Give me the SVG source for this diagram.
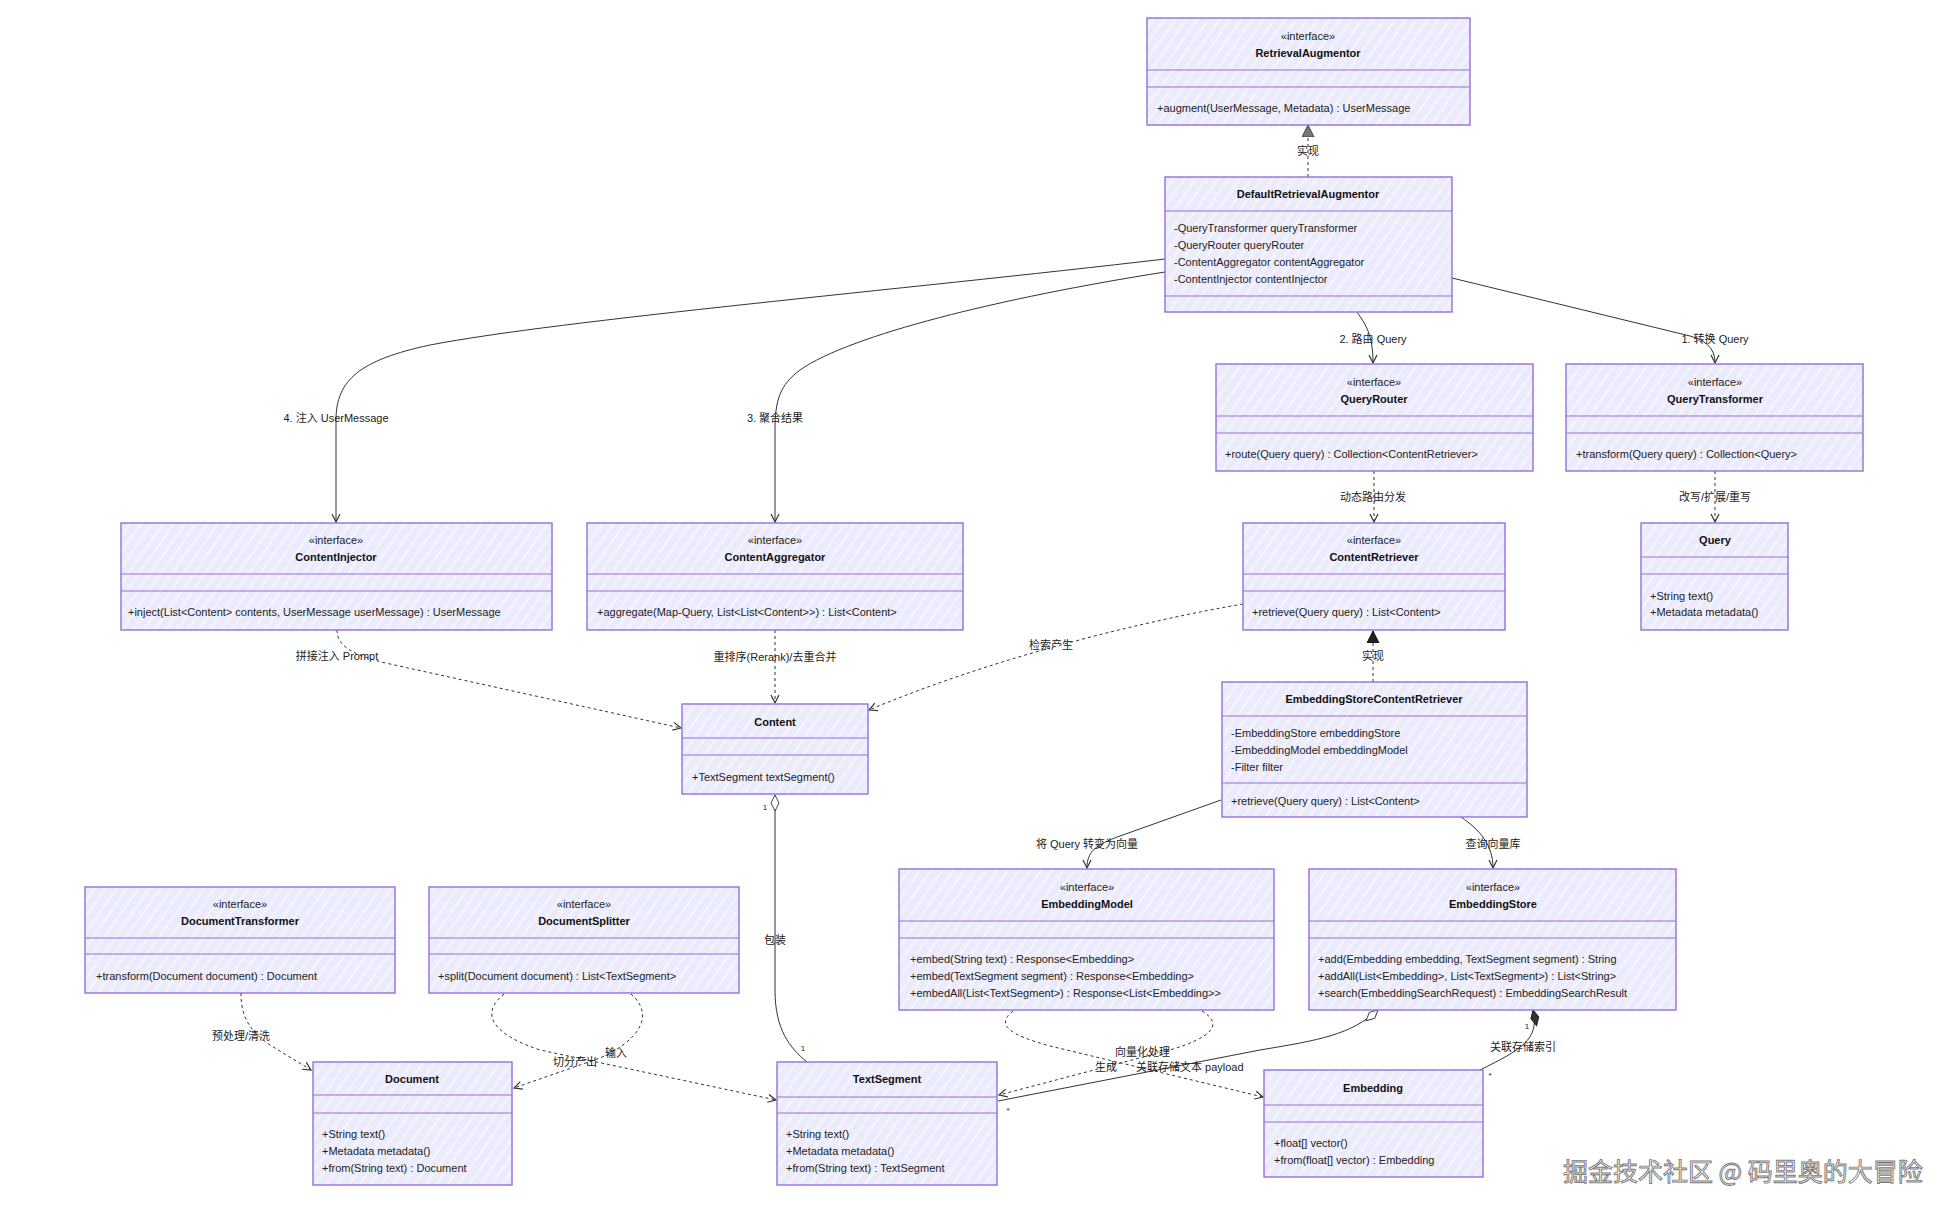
<svg xmlns="http://www.w3.org/2000/svg" width="1954" height="1214" viewBox="0 0 1954 1214">
<defs>
<pattern id="hatch" patternUnits="userSpaceOnUse" width="9" height="9" patternTransform="rotate(-55)">
<rect width="9" height="9" fill="#ececfd"/>
<line x1="0" y1="2" x2="9" y2="2" stroke="#f7f7ff" stroke-width="1.6"/>
<line x1="0" y1="6" x2="9" y2="6" stroke="#e6e6fa" stroke-width="0.8"/>
</pattern>
<marker id="arr" markerUnits="userSpaceOnUse" markerWidth="12" markerHeight="12" refX="9" refY="5" orient="auto">
<path d="M1,1 L9,5 L1,9" fill="none" stroke="#333" stroke-width="1.2"/>
</marker>
<marker id="tri" markerUnits="userSpaceOnUse" markerWidth="14" markerHeight="14" refX="12" refY="6" orient="auto">
<path d="M0,0 L12,6 L0,12 z" fill="#222" stroke="#111" stroke-width="1"/>
</marker>
<marker id="tri2" markerUnits="userSpaceOnUse" markerWidth="14" markerHeight="14" refX="12" refY="6" orient="auto">
<path d="M0,0 L12,6 L0,12 z" fill="#777" stroke="#444" stroke-width="1"/>
</marker>
<marker id="dia" markerUnits="userSpaceOnUse" markerWidth="18" markerHeight="12" refX="0" refY="5" orient="auto">
<path d="M0,5 L8,1 L16,5 L8,9 z" fill="#fff" stroke="#444" stroke-width="1"/>
</marker>
<marker id="diaf" markerUnits="userSpaceOnUse" markerWidth="18" markerHeight="12" refX="0" refY="5" orient="auto">
<path d="M0,5 L8,1 L16,5 L8,9 z" fill="#333" stroke="#222" stroke-width="1"/>
</marker>
<style>
.box{fill:url(#hatch);stroke:#9370DB;stroke-width:1.4}
.dv{stroke:#9370DB;stroke-width:1.1}
text{font-family:"Liberation Sans",Arial,"Noto Sans CJK SC",sans-serif;font-size:11px;fill:#222;dominant-baseline:central}
.n{font-weight:bold;text-anchor:middle;fill:#111}
.c{text-anchor:middle}
.e{fill:none;stroke:#333;stroke-width:1}
.d{stroke-dasharray:3 3}
.m{font-size:8px}
.wm{font-size:25px;fill:#f6f6f6;stroke:#7a7a7a;stroke-width:0.9;font-family:"Noto Sans CJK SC","Liberation Sans",sans-serif}
</style>
</defs>

<g id="connectors">
<path class="e d" d="M1308,177 L1308,125" marker-end="url(#tri2)"/>
<text class="c" x="1308" y="151">实现</text>
<path class="e" d="M1357,312 C1366,325 1373,335 1373,363" marker-end="url(#arr)"/>
<text class="c" x="1373" y="339">2. 路由 Query</text>
<path class="e" d="M1452,278 L1690,336 C1708,341 1715,350 1715,363" marker-end="url(#arr)"/>
<text class="c" x="1715" y="339">1. 转换 Query</text>
<path class="e" d="M1165,259 C900,290 560,320 430,345 C360,360 336,380 336,420 L336,522" marker-end="url(#arr)"/>
<text class="c" x="336" y="418">4. 注入 UserMessage</text>
<path class="e" d="M1165,272 C1000,298 850,335 800,370 C780,385 775,400 775,430 L775,522" marker-end="url(#arr)"/>
<text class="c" x="775" y="418">3. 聚合结果</text>
<path class="e d" d="M1374,471 L1374,522" marker-end="url(#arr)"/>
<text class="c" x="1373" y="497">动态路由分发</text>
<path class="e d" d="M1715,471 L1715,522" marker-end="url(#arr)"/>
<text class="c" x="1715" y="497">改写/扩展/重写</text>
<path class="e d" d="M337,630 C337,645 350,655 390,664 L681,728" marker-end="url(#arr)"/>
<text class="c" x="337" y="656">拼接注入 Prompt</text>
<path class="e d" d="M775,630 L775,703" marker-end="url(#arr)"/>
<text class="c" x="775" y="657">重排序(Rerank)/去重合并</text>
<path class="e d" d="M1243,604 C1150,620 1000,655 869,710" marker-end="url(#arr)"/>
<text class="c" x="1051" y="645">检索产生</text>
<path class="e d" d="M1373,682 L1373,631" marker-end="url(#tri)"/>
<text class="c" x="1373" y="656">实现</text>
<path class="e" d="M1221,800 L1120,836 C1095,845 1087,852 1087,868" marker-end="url(#arr)"/>
<text class="c" x="1087" y="844">将 Query 转变为向量</text>
<path class="e" d="M1461,817 C1480,830 1493,845 1493,868" marker-end="url(#arr)"/>
<text class="c" x="1493" y="844">查询向量库</text>
<path class="e" d="M775,795 L775,990 C775,1030 790,1048 807,1062" marker-start="url(#dia)"/>
<text class="c" x="775" y="940">包装</text>
<text class="m c" x="765" y="807">1</text>
<text class="m c" x="803" y="1048">1</text>
<path class="e" d="M1378,1010 C1350,1035 1320,1040 1260,1050 L998,1101" marker-start="url(#dia)"/>
<text class="m c" x="1364" y="1005">1</text>
<text class="m c" x="1008" y="1110">*</text>
<path class="e" d="M1533,1010 C1540,1040 1520,1050 1480,1070" marker-start="url(#diaf)"/>
<text class="c" x="1523" y="1047">关联存储索引</text>
<text class="m c" x="1527" y="1026">1</text>
<text class="m c" x="1490" y="1075">*</text>
<path class="e d" d="M1013,1011 C995,1025 1010,1035 1050,1046 L1263,1097" marker-end="url(#arr)"/>
<path class="e d" d="M1202,1011 C1225,1025 1210,1038 1170,1050 L999,1095" marker-end="url(#arr)"/>
<text x="1095" y="1067">生成</text>
<text x="1115" y="1052">向量化处理</text>
<text x="1136" y="1067">关联存储文本 payload</text>
<path class="e d" d="M241,993 C241,1015 248,1030 270,1045 L311,1070" marker-end="url(#arr)"/>
<text class="c" x="241" y="1036">预处理/清洗</text>
<path class="e d" d="M504,994 C478,1015 495,1035 540,1050 L776,1100" marker-end="url(#arr)"/>
<path class="e d" d="M631,994 C655,1015 640,1040 600,1058 L514,1088" marker-end="url(#arr)"/>
<text class="c" x="575" y="1062">切分产出</text>
<text class="c" x="616" y="1053">输入</text>
</g>

<g id="RetrievalAugmentor">
<rect class="box" x="1147" y="18" width="323" height="107"/>
<line class="dv" x1="1147" y1="70" x2="1470" y2="70"/><line class="dv" x1="1147" y1="87" x2="1470" y2="87"/>
<text class="c" x="1308" y="36">«interface»</text>
<text class="n" x="1308" y="53">RetrievalAugmentor</text>
<text x="1157" y="108">+augment(UserMessage, Metadata) : UserMessage</text>
</g>

<g id="DefaultRetrievalAugmentor">
<rect class="box" x="1165" y="177" width="287" height="135"/>
<line class="dv" x1="1165" y1="211" x2="1452" y2="211"/><line class="dv" x1="1165" y1="296" x2="1452" y2="296"/>
<text class="n" x="1308" y="194">DefaultRetrievalAugmentor</text>
<text x="1174" y="228">-QueryTransformer queryTransformer</text>
<text x="1174" y="245">-QueryRouter queryRouter</text>
<text x="1174" y="262">-ContentAggregator contentAggregator</text>
<text x="1174" y="279">-ContentInjector contentInjector</text>
</g>

<g id="QueryRouter">
<rect class="box" x="1216" y="364" width="317" height="107"/>
<line class="dv" x1="1216" y1="416" x2="1533" y2="416"/><line class="dv" x1="1216" y1="433" x2="1533" y2="433"/>
<text class="c" x="1374" y="382">«interface»</text>
<text class="n" x="1374" y="399">QueryRouter</text>
<text x="1225" y="454">+route(Query query) : Collection&lt;ContentRetriever&gt;</text>
</g>

<g id="QueryTransformer">
<rect class="box" x="1566" y="364" width="297" height="107"/>
<line class="dv" x1="1566" y1="416" x2="1863" y2="416"/><line class="dv" x1="1566" y1="433" x2="1863" y2="433"/>
<text class="c" x="1715" y="382">«interface»</text>
<text class="n" x="1715" y="399">QueryTransformer</text>
<text x="1576" y="454">+transform(Query query) : Collection&lt;Query&gt;</text>
</g>

<g id="ContentInjector">
<rect class="box" x="121" y="523" width="431" height="107"/>
<line class="dv" x1="121" y1="574" x2="552" y2="574"/><line class="dv" x1="121" y1="591" x2="552" y2="591"/>
<text class="c" x="336" y="540">«interface»</text>
<text class="n" x="336" y="557">ContentInjector</text>
<text x="128" y="612">+inject(List&lt;Content&gt; contents, UserMessage userMessage) : UserMessage</text>
</g>

<g id="ContentAggregator">
<rect class="box" x="587" y="523" width="376" height="107"/>
<line class="dv" x1="587" y1="574" x2="963" y2="574"/><line class="dv" x1="587" y1="591" x2="963" y2="591"/>
<text class="c" x="775" y="540">«interface»</text>
<text class="n" x="775" y="557">ContentAggregator</text>
<text x="597" y="612">+aggregate(Map-Query, List&lt;List&lt;Content&gt;&gt;) : List&lt;Content&gt;</text>
</g>

<g id="ContentRetriever">
<rect class="box" x="1243" y="523" width="262" height="107"/>
<line class="dv" x1="1243" y1="574" x2="1505" y2="574"/><line class="dv" x1="1243" y1="591" x2="1505" y2="591"/>
<text class="c" x="1374" y="540">«interface»</text>
<text class="n" x="1374" y="557">ContentRetriever</text>
<text x="1252" y="612">+retrieve(Query query) : List&lt;Content&gt;</text>
</g>

<g id="Query">
<rect class="box" x="1641" y="523" width="147" height="107"/>
<line class="dv" x1="1641" y1="557" x2="1788" y2="557"/><line class="dv" x1="1641" y1="574" x2="1788" y2="574"/>
<text class="n" x="1715" y="540">Query</text>
<text x="1650" y="596">+String text()</text>
<text x="1650" y="612">+Metadata metadata()</text>
</g>

<g id="Content">
<rect class="box" x="682" y="704" width="186" height="90"/>
<line class="dv" x1="682" y1="738" x2="868" y2="738"/><line class="dv" x1="682" y1="755" x2="868" y2="755"/>
<text class="n" x="775" y="722">Content</text>
<text x="692" y="777">+TextSegment textSegment()</text>
</g>

<g id="EmbeddingStoreContentRetriever">
<rect class="box" x="1222" y="682" width="305" height="135"/>
<line class="dv" x1="1222" y1="716" x2="1527" y2="716"/><line class="dv" x1="1222" y1="783" x2="1527" y2="783"/>
<text class="n" x="1374" y="699">EmbeddingStoreContentRetriever</text>
<text x="1231" y="733">-EmbeddingStore embeddingStore</text>
<text x="1231" y="750">-EmbeddingModel embeddingModel</text>
<text x="1231" y="767">-Filter filter</text>
<text x="1231" y="801">+retrieve(Query query) : List&lt;Content&gt;</text>
</g>

<g id="EmbeddingModel">
<rect class="box" x="899" y="869" width="375" height="141"/>
<line class="dv" x1="899" y1="921" x2="1274" y2="921"/><line class="dv" x1="899" y1="938" x2="1274" y2="938"/>
<text class="c" x="1087" y="887">«interface»</text>
<text class="n" x="1087" y="904">EmbeddingModel</text>
<text x="910" y="959">+embed(String text) : Response&lt;Embedding&gt;</text>
<text x="910" y="976">+embed(TextSegment segment) : Response&lt;Embedding&gt;</text>
<text x="910" y="993">+embedAll(List&lt;TextSegment&gt;) : Response&lt;List&lt;Embedding&gt;&gt;</text>
</g>

<g id="EmbeddingStore">
<rect class="box" x="1309" y="869" width="367" height="141"/>
<line class="dv" x1="1309" y1="921" x2="1676" y2="921"/><line class="dv" x1="1309" y1="938" x2="1676" y2="938"/>
<text class="c" x="1493" y="887">«interface»</text>
<text class="n" x="1493" y="904">EmbeddingStore</text>
<text x="1318" y="959">+add(Embedding embedding, TextSegment segment) : String</text>
<text x="1318" y="976">+addAll(List&lt;Embedding&gt;, List&lt;TextSegment&gt;) : List&lt;String&gt;</text>
<text x="1318" y="993">+search(EmbeddingSearchRequest) : EmbeddingSearchResult</text>
</g>

<g id="DocumentTransformer">
<rect class="box" x="85" y="887" width="310" height="106"/>
<line class="dv" x1="85" y1="938" x2="395" y2="938"/><line class="dv" x1="85" y1="954" x2="395" y2="954"/>
<text class="c" x="240" y="904">«interface»</text>
<text class="n" x="240" y="921">DocumentTransformer</text>
<text x="96" y="976">+transform(Document document) : Document</text>
</g>

<g id="DocumentSplitter">
<rect class="box" x="429" y="887" width="310" height="106"/>
<line class="dv" x1="429" y1="938" x2="739" y2="938"/><line class="dv" x1="429" y1="954" x2="739" y2="954"/>
<text class="c" x="584" y="904">«interface»</text>
<text class="n" x="584" y="921">DocumentSplitter</text>
<text x="438" y="976">+split(Document document) : List&lt;TextSegment&gt;</text>
</g>

<g id="Document">
<rect class="box" x="313" y="1062" width="199" height="123"/>
<line class="dv" x1="313" y1="1095" x2="512" y2="1095"/><line class="dv" x1="313" y1="1113" x2="512" y2="1113"/>
<text class="n" x="412" y="1079">Document</text>
<text x="322" y="1134">+String text()</text>
<text x="322" y="1151">+Metadata metadata()</text>
<text x="322" y="1168">+from(String text) : Document</text>
</g>

<g id="TextSegment">
<rect class="box" x="777" y="1062" width="220" height="123"/>
<line class="dv" x1="777" y1="1097" x2="997" y2="1097"/><line class="dv" x1="777" y1="1113" x2="997" y2="1113"/>
<text class="n" x="887" y="1079">TextSegment</text>
<text x="786" y="1134">+String text()</text>
<text x="786" y="1151">+Metadata metadata()</text>
<text x="786" y="1168">+from(String text) : TextSegment</text>
</g>

<g id="Embedding">
<rect class="box" x="1264" y="1070" width="219" height="107"/>
<line class="dv" x1="1264" y1="1105" x2="1483" y2="1105"/><line class="dv" x1="1264" y1="1122" x2="1483" y2="1122"/>
<text class="n" x="1373" y="1088">Embedding</text>
<text x="1274" y="1143">+float[] vector()</text>
<text x="1274" y="1160">+from(float[] vector) : Embedding</text>
</g>

<text class="wm" x="1563" y="1170">掘金技术社区 @ 码里奥的大冒险</text>
</svg>
